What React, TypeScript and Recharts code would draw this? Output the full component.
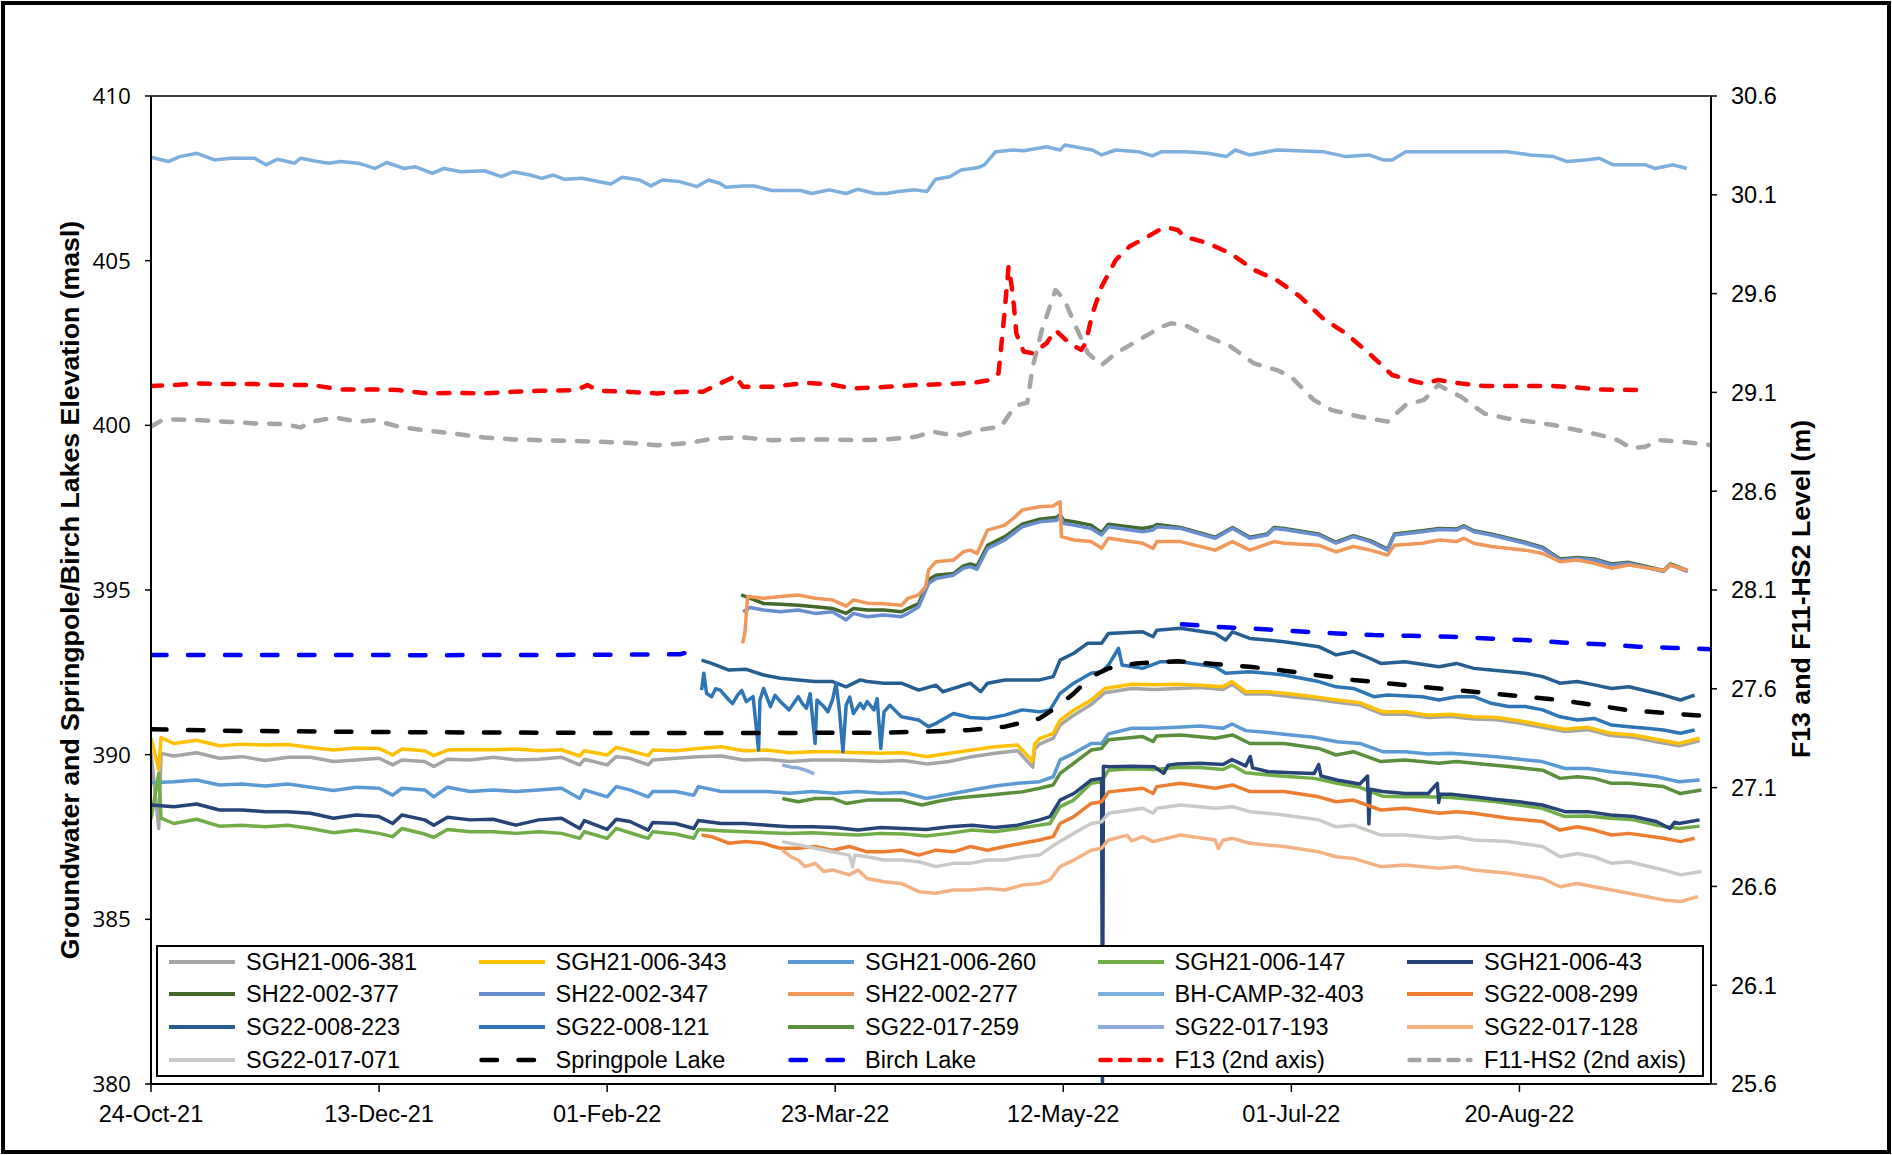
import React from 'react';
import { LineChart, Line, XAxis, YAxis, Legend, ReferenceLine } from 'recharts';

// x = days since 24-Oct-21
type Pt = [number, number | null];

const X_TICKS = [0, 50, 100, 150, 200, 250, 300];
const X_LABELS = ['24-Oct-21', '13-Dec-21', '01-Feb-22', '23-Mar-22', '12-May-22', '01-Jul-22', '20-Aug-22'];
const LEFT_TICKS = [380, 385, 390, 395, 400, 405, 410];
const RIGHT_TICKS = [25.6, 26.1, 26.6, 27.1, 27.6, 28.1, 28.6, 29.1, 29.6, 30.1, 30.6];

const SGH21_006_381: Pt[] = [[0,390.06],[1.7,387.76],[2.2,390.04],[5,389.96],[10,390.06],[15,389.89],[20,389.94],[25,389.82],[30,389.92],[35,389.92],[40,389.79],[45,389.84],[50,389.89],[53,389.69],[55,389.84],[60,389.79],[62,389.64],[65,389.86],[70,389.84],[75,389.92],[80,389.84],[85,389.86],[90,389.92],[94,389.69],[95,389.86],[100,389.69],[102,389.94],[105,389.89],[109,389.69],[110,389.84],[115,389.89],[120,389.94],[125,389.96],[130,389.84],[135,389.86],[140,389.79],[145,389.84],[150,389.84],[155,389.82],[160,389.79],[165,389.82],[170,389.72],[175,389.79],[180,389.94],[185,390.04],[190,390.12],[193.3,389.62],[193.7,390.16],[194.8,390.32],[197.8,390.5],[199.3,390.9],[202.3,391.2],[206.1,391.52],[209.1,391.88],[215,392.01],[220,391.98],[225,392.01],[230,392.04],[235,391.98],[237,392.14],[240,391.84],[245,391.84],[250,391.76],[255,391.69],[260,391.59],[265,391.51],[270,391.23],[275,391.23],[280,391.13],[285,391.16],[290,391.08],[295,391.06],[300,390.96],[305,390.83],[310,390.7],[315,390.76],[320,390.58],[325,390.53],[330,390.39],[335,390.27],[339.5,390.42]];
const SGH21_006_343: Pt[] = [[0,390.5],[1.7,389.55],[2.2,390.52],[5,390.34],[10,390.44],[15,390.27],[20,390.32],[25,390.29],[30,390.31],[35,390.22],[40,390.14],[45,390.2],[50,390.19],[53,389.99],[55,390.17],[60,390.12],[62,389.97],[65,390.14],[70,390.16],[75,390.15],[80,390.17],[85,390.12],[90,390.15],[94,389.96],[95,390.12],[100,389.99],[102,390.22],[105,390.12],[109,389.97],[110,390.14],[115,390.12],[120,390.19],[125,390.24],[130,390.12],[135,390.14],[140,390.06],[145,390.09],[150,390.09],[155,390.06],[160,390.04],[165,390.06],[170,389.94],[175,390.04],[180,390.14],[185,390.24],[190,390.29],[193.3,389.8],[193.7,390.32],[194.8,390.49],[197.8,390.65],[199.3,391.05],[202.3,391.35],[206.1,391.66],[209.1,392.01],[215,392.14],[220,392.12],[225,392.14],[230,392.11],[235,392.06],[237,392.22],[240,391.91],[245,391.91],[250,391.84],[255,391.76],[260,391.66],[265,391.58],[270,391.3],[275,391.3],[280,391.2],[285,391.23],[290,391.15],[295,391.13],[300,391.03],[305,390.9],[310,390.77],[315,390.83],[320,390.65],[325,390.6],[330,390.47],[335,390.34],[339.5,390.5]];
const SGH21_006_260: Pt[] = [[0,389.15],[5,389.18],[10,389.23],[15,389.08],[20,389.11],[25,389.05],[30,389.11],[35,389.01],[40,388.91],[45,389.01],[50,388.98],[53,388.77],[55,388.98],[60,388.93],[62,388.72],[65,389.01],[70,388.88],[75,388.93],[80,388.88],[85,388.93],[90,388.98],[94,388.67],[95,388.93],[100,388.72],[102,389.03],[105,388.93],[109,388.72],[110,388.88],[115,388.88],[119,388.77],[120,389.03],[125,388.88],[130,388.88],[135,388.88],[140,388.83],[145,388.88],[150,388.83],[155,388.88],[160,388.83],[165,388.85],[170,388.67],[175,388.8],[180,388.93],[185,389.05],[190,389.13],[194.8,389.18],[197.8,389.33],[199.3,389.84],[202.3,390.04],[206.1,390.34],[208.4,390.34],[209.9,390.63],[215,390.8],[220,390.8],[225,390.83],[230,390.87],[235,390.8],[237,390.93],[240,390.73],[245,390.67],[250,390.6],[255,390.53],[260,390.39],[265,390.34],[270,390.09],[275,390.09],[280,390.02],[285,390.04],[290,389.99],[295,389.94],[300,389.86],[305,389.79],[310,389.58],[315,389.58],[320,389.48],[325,389.41],[330,389.33],[335,389.18],[339.5,389.23]];
const SGH21_006_147: Pt[] = [[0,388.04],[1.7,389.43],[2.2,388.07],[5,387.91],[10,388.04],[15,387.83],[20,387.86],[25,387.81],[30,387.86],[35,387.76],[40,387.63],[45,387.71],[50,387.61],[53,387.51],[55,387.76],[60,387.59],[62,387.49],[65,387.73],[70,387.66],[75,387.66],[80,387.61],[85,387.66],[90,387.61],[94,387.46],[95,387.66],[100,387.46],[102,387.76],[105,387.63],[109,387.46],[110,387.66],[115,387.59],[119,387.46],[120,387.73],[125,387.69],[130,387.66],[135,387.63],[140,387.61],[145,387.63],[150,387.59],[155,387.56],[160,387.61],[165,387.59],[170,387.53],[175,387.61],[180,387.71],[185,387.66],[190,387.76],[194.8,387.86],[197.1,387.91],[199.3,388.42],[202.3,388.62],[206.1,389.13],[208.4,389.18],[209.9,389.53],[215,389.57],[220,389.55],[225,389.61],[230,389.61],[235,389.55],[237,389.68],[240,389.45],[245,389.38],[250,389.33],[255,389.28],[260,389.13],[265,389.01],[270,388.74],[275,388.72],[280,388.72],[285,388.7],[290,388.64],[295,388.57],[300,388.47],[305,388.37],[310,388.12],[315,388.14],[320,388.07],[325,388.02],[330,387.86],[335,387.76],[339.5,387.83]];
const SGH21_006_43: Pt[] = [[0,388.47],[5,388.42],[10,388.5],[15,388.32],[20,388.32],[25,388.27],[30,388.27],[35,388.22],[40,388.07],[45,388.17],[50,388.12],[53,387.91],[55,388.17],[60,388.02],[62,387.86],[65,388.1],[70,388.02],[75,388.04],[80,387.86],[85,388.02],[90,388.07],[94,387.76],[95,388.0],[100,387.73],[102,388.04],[105,387.97],[109,387.71],[110,387.94],[115,387.91],[119,387.76],[120,388.0],[125,387.91],[130,387.91],[135,387.86],[140,387.81],[145,387.81],[150,387.79],[155,387.71],[160,387.79],[165,387.76],[170,387.73],[175,387.81],[180,387.86],[185,387.79],[190,387.86],[194.8,388.02],[197.1,388.12],[199.3,388.62],[202.3,388.82],[206.1,389.23],[208.4,389.28],[208.6,380],[208.8,389.65],[210,389.63],[215,389.65],[220,389.63],[222,389.43],[223,389.68],[225,389.72],[230,389.74],[235,389.7],[237,389.85],[240,389.66],[241,389.94],[241.5,389.6],[245,389.48],[250,389.45],[255,389.43],[256,389.7],[256.5,389.35],[260,389.23],[265,389.11],[266.7,389.35],[267,387.9],[267.3,388.95],[270,388.88],[275,388.82],[280,388.82],[282,389.13],[282.3,388.55],[282.6,388.8],[285,388.8],[290,388.72],[295,388.64],[300,388.57],[305,388.47],[310,388.27],[315,388.27],[320,388.17],[325,388.12],[330,387.97],[333,387.76],[334,387.95],[335,387.91],[339.5,388.02]];
const SH22_002_377: Pt[] = [[129.4,394.85],[131.3,394.75],[134.3,394.59],[138,394.57],[141.9,394.54],[145.6,394.49],[149.4,394.44],[152.4,394.29],[154,394.44],[157,394.39],[160.7,394.39],[164.5,394.34],[166,394.44],[168.3,394.59],[170.5,395.32],[172.1,395.45],[175.9,395.5],[178.1,395.73],[179.6,395.79],[181.1,395.73],[183.4,396.36],[187.2,396.62],[191,397.0],[194.8,397.15],[198.6,397.21],[199.3,397.28],[200.1,397.12],[202.3,397.07],[206.1,396.97],[208.4,396.74],[209.9,397.0],[217.4,396.87],[219.7,396.93],[220.5,396.99],[225.7,396.9],[233.3,396.6],[237.1,396.9],[240.9,396.6],[244.7,396.7],[246.2,396.9],[248.4,396.87],[256,396.7],[259.8,396.45],[263.6,396.65],[267.3,396.5],[271.1,396.24],[272.6,396.7],[278.7,396.8],[282.4,396.87],[286.2,396.85],[287.8,396.95],[290,396.8],[293.8,396.7],[301.3,396.45],[305.1,396.29],[308.9,395.94],[312.7,395.99],[316.4,395.94],[320.2,395.79],[324,395.84],[331.6,395.59],[333.1,395.79],[336.9,395.59]];
const SH22_002_347: Pt[] = [[129.8,394.34],[131.3,394.47],[134.3,394.39],[138,394.34],[141.9,394.39],[145.6,394.29],[149.4,394.34],[152.4,394.09],[154,394.29],[157,394.19],[160.7,394.24],[164.5,394.19],[166,394.29],[168.3,394.49],[170.5,395.2],[172.1,395.35],[175.9,395.45],[178.1,395.66],[179.6,395.71],[181.1,395.63],[183.4,396.26],[187.2,396.52],[191,396.92],[194.8,397.07],[198.6,397.12],[199.3,397.23],[200.1,397.02],[202.3,396.97],[206.1,396.87],[208.4,396.67],[209.9,396.92],[217.4,396.77],[219.7,396.82],[220.5,396.92],[225.7,396.87],[233.3,396.57],[237.1,396.87],[240.9,396.57],[244.7,396.67],[246.2,396.87],[248.4,396.84],[256,396.67],[259.8,396.42],[263.6,396.62],[267.3,396.47],[271.1,396.21],[272.6,396.67],[278.7,396.77],[282.4,396.84],[286.2,396.82],[287.8,396.92],[290,396.77],[293.8,396.67],[301.3,396.42],[305.1,396.26],[308.9,395.91],[312.7,395.96],[316.4,395.91],[320.2,395.76],[324,395.81],[331.6,395.56],[333.1,395.76],[336.9,395.56]];
const SH22_002_277: Pt[] = [[129.7,393.38],[130.2,393.7],[130.8,394.8],[134.3,394.75],[138,394.8],[141.9,394.85],[145.6,394.75],[149.4,394.7],[152.4,394.51],[154,394.7],[157,394.6],[160.7,394.58],[164.5,394.54],[166,394.75],[168.3,394.85],[169.8,395.1],[170.5,395.61],[172.1,395.86],[175.9,395.91],[178.1,396.16],[179.6,396.21],[181.1,396.11],[183.4,396.82],[187.2,396.97],[189.5,397.23],[191,397.43],[194.8,397.53],[197.8,397.55],[199.3,397.68],[199.6,396.62],[202.3,396.52],[206.1,396.47],[208.4,396.27],[209.9,396.57],[217.4,396.42],[219.7,396.26],[220.5,396.47],[225.7,396.47],[233.3,396.21],[237.1,396.47],[240.9,396.21],[246.2,396.47],[248.4,396.42],[256,396.36],[259.8,396.16],[263.6,396.32],[267.3,396.21],[271.1,396.06],[272.6,396.36],[278.7,396.42],[282.4,396.52],[286.2,396.47],[287.8,396.57],[290,396.42],[293.8,396.32],[301.3,396.21],[305.1,396.11],[308.9,395.86],[312.7,395.91],[316.4,395.81],[320.2,395.66],[324,395.76],[331.6,395.59],[333.1,395.76],[336.9,395.59]];
const BH_CAMP_32_403: Pt[] = [[0,408.14],[3.8,408.01],[6.3,408.16],[10.1,408.26],[13.9,408.06],[17.6,408.11],[22.7,408.11],[25.2,407.91],[27.7,408.08],[31.5,407.96],[32.8,408.11],[36.5,408.01],[39,407.96],[41.6,408.01],[45.4,407.96],[49.1,407.8],[51.7,407.98],[55.4,407.8],[58,407.85],[61.7,407.65],[64.2,407.8],[68,407.7],[73.1,407.73],[76.8,407.55],[79.4,407.7],[83.1,407.6],[85.7,407.5],[88.2,407.6],[90.7,407.47],[94.5,407.5],[100.8,407.33],[103.3,407.53],[107.1,407.45],[109.6,407.27],[112.1,407.45],[115.9,407.4],[119.7,407.25],[122.2,407.45],[124.7,407.35],[126,407.23],[129.8,407.27],[132.3,407.27],[136.1,407.13],[142.4,407.13],[144.9,407.04],[148.7,407.15],[152.4,407.04],[155,407.17],[158.7,407.04],[161.3,407.04],[163.8,407.1],[167.5,407.15],[170.1,407.1],[172,407.47],[175.1,407.55],[177.6,407.75],[181.4,407.83],[182.7,407.91],[185.2,408.31],[189,408.36],[191.3,408.34],[196.3,408.46],[199.3,408.36],[200.3,408.51],[206.4,408.36],[208.4,408.21],[211.5,408.36],[216.5,408.31],[219.5,408.18],[221.6,408.31],[226.6,408.31],[231.7,408.26],[235.7,408.16],[237.7,408.36],[240.8,408.21],[246.8,408.36],[256.9,408.31],[262,408.16],[267,408.21],[270.1,408.06],[272.1,408.06],[275.1,408.31],[282.2,408.31],[287.2,408.31],[297.3,408.31],[302.4,408.21],[307.4,408.16],[310.5,408.01],[314.5,408.06],[317.5,408.11],[320.6,407.91],[327.6,407.91],[329.7,407.8],[333.7,407.91],[336.7,407.8]];
const SG22_008_299: Pt[] = [[120.7,387.56],[122.9,387.51],[124.8,387.41],[126.7,387.31],[130.5,387.36],[134.3,387.31],[136.5,387.21],[138,387.16],[141.9,387.16],[145.6,387.21],[149.4,387.1],[153.1,387.21],[157,387.05],[160.7,387.05],[164.5,387.1],[168.3,386.95],[172.1,387.1],[175.9,387.05],[179.6,387.21],[183.4,387.1],[187.2,387.21],[191,387.31],[194.8,387.41],[197.8,387.51],[199.3,387.91],[202.3,388.12],[206.1,388.52],[208.4,388.57],[209.9,388.87],[217.4,388.98],[219.7,388.82],[220.5,389.03],[225.7,389.13],[233.3,388.98],[237.1,389.08],[240.9,388.88],[248.4,388.88],[256,388.72],[259.8,388.57],[263.6,388.62],[269.6,388.32],[274.9,388.37],[282.4,388.22],[286.2,388.27],[290,388.22],[297.6,388.07],[305.1,387.97],[308.9,387.71],[312.7,387.81],[316.4,387.71],[320.2,387.56],[324,387.61],[331.6,387.46],[335.3,387.36],[338.4,387.46]];
const SG22_008_223: Pt[] = [[120.7,392.87],[122.9,392.77],[126.7,392.57],[130.5,392.59],[134.3,392.42],[138,392.32],[141.9,392.27],[145.6,392.22],[149.4,392.22],[152.4,392.06],[155.5,392.27],[157,392.22],[160.7,392.17],[164.5,392.17],[168.3,391.96],[172.1,392.11],[173.6,391.91],[179.6,392.17],[181.9,391.91],[183.4,392.17],[187.2,392.27],[191,392.27],[194.8,392.27],[197.8,392.37],[199.3,392.87],[202.3,393.08],[205.3,393.38],[208.4,393.38],[209.9,393.68],[217.4,393.73],[219.7,393.58],[220.5,393.78],[225.7,393.84],[233.3,393.68],[235.6,393.48],[237.1,393.73],[240.9,393.53],[244.7,393.48],[248.4,393.43],[256,393.28],[259.8,393.03],[263.6,393.13],[267.3,392.92],[269.6,392.77],[274.9,392.82],[282.4,392.67],[286.2,392.77],[290,392.62],[293.8,392.57],[301.3,392.47],[305.1,392.37],[308.9,392.17],[312.7,392.22],[316.4,392.12],[320.2,392.01],[324,392.06],[331.6,391.81],[335.3,391.66],[338.4,391.81]];
const SG22_008_121: Pt[] = [[120.7,391.96],[121.2,392.47],[121.8,391.86],[122.9,391.76],[123.8,392.0],[124.8,391.96],[126.7,391.66],[127.5,391.55],[128.6,391.81],[129.5,391.95],[130.5,391.61],[132,391.76],[133.2,390.14],[133.5,391.66],[134.3,392.01],[135.8,391.46],[136.8,391.8],[138,391.61],[139.9,391.36],[141.9,391.76],[142.8,391.55],[143.7,391.41],[144.5,391.85],[145.6,390.34],[146,391.66],[147.5,391.46],[148.4,391.3],[149.4,391.66],[150.2,392.17],[150.9,391.36],[151.7,390.09],[152.4,391.51],[153.2,391.75],[154,391.25],[155.5,391.56],[156.2,391.4],[157,391.61],[158.5,391.36],[159.2,391.7],[160,390.19],[160.7,391.3],[162,391.5],[163,391.36],[164.5,391.15],[168.3,391.05],[170.5,390.85],[172.1,390.95],[175.9,391.25],[179.6,391.13],[183.4,391.1],[187.2,391.2],[191,391.36],[194.8,391.3],[197.1,391.36],[199.3,391.86],[202.3,392.17],[206.1,392.47],[208.4,392.52],[209.9,392.72],[212.1,393.23],[212.9,392.72],[217.4,392.62],[221.2,392.82],[225.7,392.82],[233.3,392.67],[235.6,392.47],[240.9,392.52],[248.4,392.42],[256,392.22],[259.8,392.06],[263.6,392.01],[268.1,391.76],[271.1,391.81],[278.7,391.76],[282.4,391.66],[286.2,391.76],[290,391.76],[293.8,391.56],[297.6,391.46],[301.3,391.46],[305.1,391.36],[308.9,391.15],[312.7,391.05],[316.4,391.1],[320.2,390.9],[324,390.85],[327.8,390.8],[331.6,390.75],[335.3,390.65],[338.4,390.75]];
const SG22_017_259: Pt[] = [[138.4,388.67],[141.9,388.57],[145.6,388.67],[149.4,388.67],[152.4,388.52],[157,388.62],[164.5,388.62],[169,388.47],[172.1,388.57],[175.9,388.67],[179.6,388.72],[183.4,388.77],[187.2,388.82],[191,388.87],[194.8,388.98],[197.8,389.08],[199.3,389.43],[202.3,389.74],[206.1,390.14],[208.4,390.19],[209.9,390.45],[217.4,390.55],[219.7,390.4],[220.5,390.57],[225.7,390.6],[233.3,390.5],[237.1,390.6],[240.9,390.34],[248.4,390.34],[256,390.19],[259.8,389.99],[263.6,390.09],[269.6,389.79],[274.9,389.84],[282.4,389.74],[286.2,389.79],[290,389.74],[297.6,389.64],[305.1,389.53],[308.9,389.28],[312.7,389.33],[316.4,389.28],[320.2,389.13],[324,389.13],[331.6,389.03],[335.3,388.82],[339.9,388.93]];
const SG22_017_193: Pt[] = [[138.4,389.69],[140.3,389.62],[141.9,389.6],[143.7,389.52],[145.4,389.42]];
const SG22_017_128: Pt[] = [[138.4,387.1],[140.3,386.9],[141.9,386.8],[143.4,386.6],[145.6,386.7],[147.5,386.45],[149.4,386.5],[153.1,386.35],[155,386.5],[157,386.24],[160.7,386.14],[164.5,386.09],[168.3,385.84],[172.1,385.79],[175.9,385.89],[179.6,385.89],[183.4,385.94],[187.2,385.89],[191,386.04],[194.8,386.09],[197.1,386.2],[199.3,386.6],[202.3,386.8],[206.1,387.1],[208.4,387.16],[209.9,387.41],[214,387.55],[215,387.38],[217.4,387.51],[219.7,387.36],[225.7,387.56],[233.3,387.41],[234,387.15],[235,387.4],[237.1,387.46],[240.9,387.31],[248.4,387.21],[256,387.05],[259.8,386.9],[263.6,386.85],[269.6,386.6],[274.9,386.65],[282.4,386.55],[286.2,386.6],[290,386.5],[297.6,386.4],[305.1,386.24],[308.9,385.99],[312.7,386.09],[316.4,385.99],[320.2,385.89],[324,385.79],[331.6,385.59],[335.3,385.54],[339.1,385.69]];
const SG22_017_071: Pt[] = [[138.4,387.36],[141.9,387.26],[145.6,387.16],[149.4,387.05],[153.1,386.95],[153.8,386.6],[154.3,386.95],[157,386.9],[160.7,386.8],[164.5,386.8],[168.3,386.75],[172.1,386.6],[175.9,386.7],[179.6,386.7],[183.4,386.8],[187.2,386.8],[191,386.9],[194.8,386.95],[198.6,387.31],[202.3,387.61],[206.1,387.91],[208.4,387.96],[209.9,388.22],[217.4,388.37],[219.7,388.22],[220.5,388.37],[225.7,388.47],[233.3,388.37],[237.1,388.42],[240.9,388.27],[248.4,388.17],[256,388.02],[259.8,387.81],[263.6,387.86],[269.6,387.56],[274.9,387.56],[282.4,387.46],[286.2,387.51],[290,387.41],[297.6,387.36],[305.1,387.21],[308.9,386.9],[312.7,387.0],[316.4,386.9],[320.2,386.7],[324,386.75],[331.6,386.5],[335.3,386.35],[339.9,386.45]];
const SPRINGPOLE_LAKE: Pt[] = [[0,390.77],[20,390.72],[40,390.7],[60,390.68],[80,390.67],[100,390.66],[120,390.66],[140,390.66],[160,390.67],[170,390.7],[179.6,390.75],[187.2,390.85],[194.8,391.1],[198.6,391.45],[202.3,391.86],[206.1,392.37],[209.9,392.62],[216,392.77],[225,392.84],[240.9,392.67],[248.4,392.55],[263.6,392.27],[278.7,392.06],[293.8,391.86],[308.9,391.66],[324,391.35],[339.9,391.18]];
const BIRCH_LAKE: Pt[] = [[0,393.03],[30,393.03],[60,393.02],[90,393.03],[110,393.04],[116,393.05],[118,393.12],[119.5,393.05],[170,null],[226,393.96],[234,393.88],[245,393.8],[253,393.73],[260,393.68],[268,393.63],[276,393.61],[285,393.58],[293,393.53],[301,393.48],[310,393.4],[318,393.35],[326,393.28],[334,393.24],[342,393.2]];
// 2nd axis (m)
const F13: Pt[] = [[0,29.132],[5,29.137],[10.1,29.145],[16.4,29.142],[22.7,29.142],[29,29.137],[35.3,29.137],[41.6,29.115],[47.9,29.115],[54.2,29.112],[60.5,29.095],[66.8,29.098],[73.1,29.095],[79.4,29.103],[85.7,29.108],[93.2,29.112],[95.7,29.137],[98.3,29.108],[104.6,29.103],[110.9,29.095],[117.2,29.103],[121,29.103],[123.5,29.132],[127.2,29.172],[127.9,29.188],[129.8,29.128],[136.1,29.128],[143.6,29.148],[148.7,29.142],[153.7,29.12],[161.3,29.128],[167.6,29.137],[173.9,29.142],[180.2,29.148],[184,29.163],[185.8,29.197],[186.4,29.332],[187.1,29.5],[188,29.737],[188.7,29.635],[189.2,29.533],[189.7,29.398],[191.3,29.307],[193.3,29.298],[196.3,29.348],[198.3,29.415],[201.4,29.348],[203.9,29.315],[204.9,29.348],[206.4,29.5],[208.4,29.635],[211.5,29.77],[214.5,29.838],[218.5,29.888],[221.6,29.93],[223.6,29.93],[225.1,29.922],[226.6,29.888],[231.7,29.855],[236.7,29.803],[241.8,29.72],[246.8,29.668],[251.9,29.585],[256.9,29.475],[262,29.398],[267,29.298],[272.1,29.188],[277.1,29.155],[279.1,29.145],[282.2,29.163],[287.2,29.145],[292.3,29.132],[297.3,29.132],[302.4,29.132],[307.4,29.132],[312.5,29.125],[317.5,29.115],[325.6,29.112]];
const F11_HS2: Pt[] = [[0,28.927],[2.5,28.96],[5,28.963],[10.1,28.96],[16.4,28.952],[22.7,28.943],[29,28.94],[32.8,28.923],[35.3,28.952],[40.3,28.973],[45.4,28.952],[49.1,28.96],[54.2,28.927],[60.5,28.907],[66.8,28.89],[73.1,28.872],[79.4,28.862],[85.7,28.858],[92,28.855],[98.3,28.85],[104.6,28.845],[110.9,28.833],[117.2,28.842],[123.5,28.867],[129.8,28.872],[136.1,28.858],[142.4,28.862],[148.7,28.862],[155,28.858],[161.3,28.862],[167.6,28.875],[171.3,28.902],[173.9,28.89],[177.6,28.885],[181.4,28.91],[186.4,28.927],[188.3,28.993],[190.2,29.037],[192.1,29.048],[193.3,29.23],[195.3,29.415],[197.3,29.55],[198.3,29.618],[200.3,29.567],[202.4,29.45],[205.4,29.298],[208.4,29.238],[211.5,29.298],[216.5,29.365],[221.6,29.432],[223.6,29.45],[226.6,29.442],[231.7,29.382],[236.7,29.332],[241.8,29.247],[246.8,29.213],[249.9,29.18],[254.9,29.062],[258.9,29.01],[265,28.977],[271.1,28.952],[275.1,29.037],[279.1,29.062],[282.2,29.137],[287.2,29.078],[292.3,28.993],[297.3,28.968],[302.4,28.952],[307.4,28.935],[312.5,28.91],[317.5,28.885],[321.6,28.858],[324.6,28.817],[327.6,28.825],[330.7,28.858],[335.7,28.85],[342,28.833]];

interface Series { name: string; pts: Pt[]; color: string; right?: boolean; dash?: string; legendDash?: string; width?: number }

const SERIES: Series[] = [
  { name: 'SGH21-006-381', pts: SGH21_006_381, color: '#A5A5A5' },
  { name: 'SGH21-006-343', pts: SGH21_006_343, color: '#FFC000' },
  { name: 'SGH21-006-260', pts: SGH21_006_260, color: '#5B9BD5' },
  { name: 'SGH21-006-147', pts: SGH21_006_147, color: '#70AD47' },
  { name: 'SGH21-006-43', pts: SGH21_006_43, color: '#264478' },
  { name: 'SH22-002-377', pts: SH22_002_377, color: '#43682B' },
  { name: 'SH22-002-347', pts: SH22_002_347, color: '#698ED0' },
  { name: 'SH22-002-277', pts: SH22_002_277, color: '#F1975A' },
  { name: 'BH-CAMP-32-403', pts: BH_CAMP_32_403, color: '#7CAFDD' },
  { name: 'SG22-008-299', pts: SG22_008_299, color: '#ED7D31' },
  { name: 'SG22-008-223', pts: SG22_008_223, color: '#255E91' },
  { name: 'SG22-008-121', pts: SG22_008_121, color: '#2E75B6' },
  { name: 'SG22-017-259', pts: SG22_017_259, color: '#5A8F3C' },
  { name: 'SG22-017-193', pts: SG22_017_193, color: '#8FAADC' },
  { name: 'SG22-017-128', pts: SG22_017_128, color: '#F4B183' },
  { name: 'SG22-017-071', pts: SG22_017_071, color: '#C9C9C9' },
  { name: 'Springpole Lake', pts: SPRINGPOLE_LAKE, color: '#000000', dash: '15.5 21.5', legendDash: '15.5 21.5', width: 4.5 },
  { name: 'Birch Lake', pts: BIRCH_LAKE, color: '#0000FF', dash: '15.5 21.5', legendDash: '15.5 21.5', width: 4.5 },
  { name: 'F13 (2nd axis)', pts: F13, color: '#FF0000', right: true, dash: '11 13', legendDash: '10 9.5', width: 4.5 },
  { name: 'F11-HS2 (2nd axis)', pts: F11_HS2, color: '#A5A5A5', right: true, dash: '11 13', legendDash: '10 9.5', width: 4.5 },
];

const ARIAL = '"Liberation Sans", Arial, sans-serif';

const AxisTitle = (p: { px: number; py: number; text: string }) => (
  <text x={p.px} y={p.py} transform={`rotate(-90 ${p.px} ${p.py})`} textAnchor="middle" dominantBaseline="central"
    fontFamily={ARIAL} fontWeight="bold" fontSize={26.7} fill="#000">{p.text}</text>
);

const renderLegend = () => (
  <div style={{ position: 'relative', width: 1548, height: 132, border: '2px solid #000', background: '#fff', boxSizing: 'border-box' }}>
    {SERIES.map((s, i) => {
      const col = i % 5;
      const row = Math.floor(i / 5);
      return (
        <div key={s.name} style={{ position: 'absolute', left: 11 + col * 309.5, top: 0.7 + row * 32.7, height: 28, display: 'flex', alignItems: 'center' }}>
          <svg width={66} height={28} style={{ display: 'block' }}>
            <line x1={s.dash ? 2.5 : 0} y1={14} x2={s.dash ? 63.5 : 66} y2={14} stroke={s.color} strokeWidth={s.dash ? 4.5 : 4}
              strokeDasharray={s.legendDash} strokeLinecap={s.dash ? 'round' : 'butt'} />
          </svg>
          <span style={{ marginLeft: 11, fontSize: 23.5, fontFamily: ARIAL, color: '#000', whiteSpace: 'nowrap', lineHeight: '28px' }}>{s.name}</span>
        </div>
      );
    })}
  </div>
);

export default function App() {
  return (
    <div style={{ position: 'absolute', left: 0, top: 0, width: 1892, height: 1155, background: '#fff' }}>
      <div style={{ position: 'absolute', left: 1, top: 1, width: 1890, height: 1153, border: '4px solid #000', boxSizing: 'border-box' }} />
      <div style={{ position: 'absolute', left: 0, top: 0 }}>
        <LineChart width={1892} height={1155} margin={{ top: 96, right: 99, bottom: 41, left: 71 }}>
          <XAxis type="number" dataKey="x" domain={[0, 342]} ticks={X_TICKS} allowDataOverflow
            tickFormatter={(v: number) => X_LABELS[X_TICKS.indexOf(v)] ?? ''}
            height={30} tickSize={8} tickMargin={13}
            tick={{ fontSize: 23.5, fill: '#000', fontFamily: ARIAL }}
            axisLine={{ stroke: '#000', strokeWidth: 2 }} tickLine={{ stroke: '#000', strokeWidth: 1.5 }} />
          <YAxis yAxisId="left" domain={[380, 410]} ticks={LEFT_TICKS} allowDataOverflow width={80}
            tickSize={6} tickMargin={14}
            tick={{ fontSize: 22.5, fill: '#000', fontFamily: '"Open Sans", sans-serif' }}
            axisLine={{ stroke: '#000', strokeWidth: 2 }} tickLine={{ stroke: '#000', strokeWidth: 1.5 }}
            label={<AxisTitle px={70} py={590} text="Groundwater and Springpole/Birch Lakes Elevation (masl)" />} />
          <YAxis yAxisId="right" orientation="right" domain={[25.6, 30.6]} ticks={RIGHT_TICKS} allowDataOverflow width={82}
            tickSize={6} tickMargin={14} tickFormatter={(v: number) => v.toFixed(1)}
            tick={{ fontSize: 23.5, fill: '#000', fontFamily: ARIAL }}
            axisLine={{ stroke: '#000', strokeWidth: 2 }} tickLine={{ stroke: '#000', strokeWidth: 1.5 }}
            label={<AxisTitle px={1801} py={589} text="F13 and F11-HS2 Level (m)" />} />
          <ReferenceLine yAxisId="left" y={410} stroke="#000" strokeWidth={1.5} />
          {SERIES.map((s) => (
            <Line key={s.name} name={s.name} yAxisId={s.right ? 'right' : 'left'} type="linear"
              data={s.pts.map(([x, y]) => ({ x, y }))} dataKey="y"
              stroke={s.color} strokeWidth={s.width ?? 3.5} strokeDasharray={s.dash}
              strokeLinecap={s.dash ? 'round' : 'butt'} strokeLinejoin="round"
              dot={false} activeDot={false} connectNulls={false} isAnimationActive={false} />
          ))}
          <Legend content={renderLegend} layout="horizontal" verticalAlign="middle" align="center"
            wrapperStyle={{ left: 156, top: 945, width: 1548, height: 132 }} />
        </LineChart>
      </div>
    </div>
  );
}
